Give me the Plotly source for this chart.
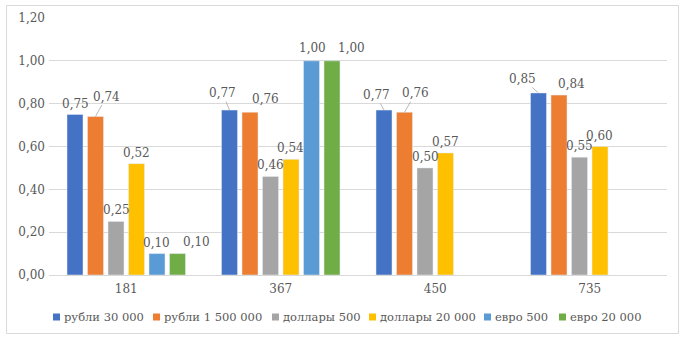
import plotly.graph_objects as go

# ---- data ----
categories = ["181", "367", "450", "735"]
series_names = ["рубли 30 000", "рубли 1 500 000", "доллары 500",
                "доллары 20 000", "евро 500", "евро 20 000"]
rub_30000 = [0.75, 0.77, 0.77, 0.85]
rub_1500000 = [0.74, 0.76, 0.76, 0.84]
usd_500 = [0.25, 0.46, 0.50, 0.55]
usd_20000 = [0.52, 0.54, 0.57, 0.60]
eur_500 = [0.10, 1.00, None, None]
eur_20000 = [0.10, 1.00, None, None]
series_values = [rub_30000, rub_1500000, usd_500, usd_20000, eur_500, eur_20000]
y_tick_values = [0, 0.2, 0.4, 0.6, 0.8, 1.0, 1.2]
y_tick_labels = ["0,00", "0,20", "0,40", "0,60", "0,80", "1,00", "1,20"]

colors = ["#4472C4", "#ED7D31", "#A5A5A5", "#FFC000", "#5B9BD5", "#70AD47"]

# ---- layout geometry ----
W, H = 683, 338
ML, MR, MT, MB = 49, 16, 18, 63
plot_w = W - ML - MR
plot_h = H - MT - MB
BARGAP = 0.204
slot = plot_w / len(categories) * (1 - BARGAP) / len(series_names)

# label offsets (text centre relative to bar top centre, px) and leader-line flag
label_tweaks = {
    (0, 0): (0, -10, False),
    (1, 0): (11, -20, True),
    (5, 0): (19, -12, False),
    (0, 1): (-7, -17, True),
    (1, 1): (15, -13, False),
    (4, 1): (1, -13, False),
    (5, 1): (20, -13, False),
    (0, 2): (-8, -15, True),
    (1, 2): (11, -19, True),
    (0, 3): (-16, -14, True),
    (1, 3): (12, -11, False),
}
# manual legend: left edge of each swatch (px)
legend_x_px = [53, 153, 272, 369, 484, 559]
legend_y_px = 317

font_family = "DejaVu Serif"
text_color = "#595959"


def px_to_paper_x(px):
    return (px - ML) / plot_w


def px_to_paper_y(py):
    return (H - MB - py) / plot_h


fig = go.Figure()
for name, vals, col in zip(series_names, series_values, colors):
    fig.add_trace(go.Bar(name=name, x=categories, y=vals, marker_color=col,
                         showlegend=False))

annotations = []
for i, vals in enumerate(series_values):
    for j, v in enumerate(vals):
        if v is None:
            continue
        dx, dy, arrow = label_tweaks.get((i, j), (0, -11, False))
        base_x = (i - (len(series_names) - 1) / 2) * slot
        txt = f"{v:.2f}".replace(".", ",")
        # x given as category index (numeric strings would be read as indices)
        if arrow:
            annotations.append(dict(
                x=j, y=v, xref="x", yref="y", text=txt,
                showarrow=True, arrowhead=0, arrowwidth=0.8, arrowcolor="#a6a6a6",
                ax=dx, ay=dy, xshift=base_x,
                font=dict(family=font_family, size=12, color=text_color),
            ))
        else:
            annotations.append(dict(
                x=j, y=v, xref="x", yref="y", text=txt,
                showarrow=False, xshift=base_x + dx, yshift=-dy,
                xanchor="center", yanchor="middle",
                font=dict(family=font_family, size=12, color=text_color),
            ))

shapes = [dict(
    type="rect", xref="paper", yref="paper",
    x0=px_to_paper_x(6.5), x1=px_to_paper_x(678.5),
    y0=px_to_paper_y(333.5), y1=px_to_paper_y(5.5),
    line=dict(color="#d9d9d9", width=1), layer="below",
)]
for name, col, lx in zip(series_names, colors, legend_x_px):
    shapes.append(dict(
        type="rect", xref="paper", yref="paper",
        x0=px_to_paper_x(lx), x1=px_to_paper_x(lx + 7),
        y0=px_to_paper_y(legend_y_px + 3.5), y1=px_to_paper_y(legend_y_px - 3.5),
        line=dict(width=0), fillcolor=col,
    ))
    annotations.append(dict(
        x=px_to_paper_x(lx + 8.5), y=px_to_paper_y(legend_y_px), xref="paper", yref="paper",
        text=name, showarrow=False, xanchor="left", yanchor="middle",
        font=dict(family=font_family, size=11.5, color=text_color),
    ))

fig.update_layout(
    width=W, height=H,
    margin=dict(l=ML, r=MR, t=MT, b=MB),
    paper_bgcolor="white", plot_bgcolor="white",
    barmode="group", bargap=BARGAP, bargroupgap=0.22,
    font=dict(family=font_family, size=12, color=text_color),
    xaxis=dict(
        type="category", range=[-0.5, len(categories) - 0.5],
        showgrid=False, showline=True, linecolor="#d9d9d9",
        linewidth=1, ticks="", ticklabelstandoff=3,
        tickfont=dict(family=font_family, size=12, color=text_color),
    ),
    yaxis=dict(
        range=[0, 1.2], tickvals=y_tick_values, ticktext=y_tick_labels,
        showgrid=True, gridcolor="#d9d9d9", gridwidth=1, zeroline=False,
        showline=False, ticks="", ticklabelstandoff=3,
        tickfont=dict(family=font_family, size=12, color=text_color),
    ),
    annotations=annotations,
    shapes=shapes,
)

fig.write_html("out.html")
